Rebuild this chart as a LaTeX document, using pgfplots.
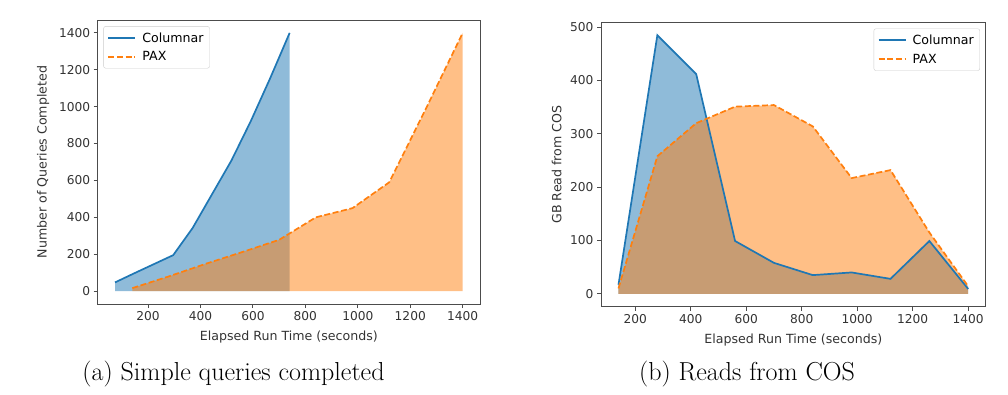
\documentclass[border=0pt]{standalone}
\usepackage{fontspec}
\usepackage{pgfplots}
\pgfplotsset{compat=1.18}
\newfontfamily\dejavu{DejaVu Sans}
\definecolor{cblue}{HTML}{1F77B4}
\definecolor{corange}{HTML}{FF7F0E}
\newcommand\tfont{\dejavu\fontsize{12.2}{14}\selectfont}
\newcommand\lfont{\dejavu\fontsize{12.6}{15}\selectfont}
\pgfplotsset{myax/.style={
  scale only axis,
  axis line style={black!70, line width=0.9pt},
  tick align=outside, tickpos=left, major tick length=4pt,
  tick style={black!70, line width=0.9pt},
  ticklabel style={font=\tfont, text=black!80},
  /pgf/number format/assume math mode=true,
  /pgf/number format/1000 sep={},
  label style={font=\lfont, text=black!80},
  xtick={200,400,...,1400},
  legend cell align=left,
  legend style={font=\lfont, draw=black!20, rounded corners=2pt, fill=white, fill opacity=0.8, text opacity=1, draw opacity=1, inner xsep=4pt, inner ysep=4pt, row sep=4pt, column sep=4pt},
  legend image code/.code={\draw[##1, line width=1.7pt] (0pt,0pt) -- (27pt,0pt);},
}}
\begin{document}
\begin{tikzpicture}
\path[use as bounding box] (0,0) rectangle (1008pt,394pt);
\begin{axis}[myax,
  at={(97.7pt,90pt)}, anchor=south west, width=382.3pt, height=284pt,
  xmin=8, xmax=1466, ymin=-70, ymax=1470,
  ytick={0,200,...,1400},
  xlabel={Elapsed Run Time (seconds)},
  ylabel={Number of Queries Completed},
  xlabel style={at={(axis description cs:0.5,-0.116)}, anchor=center},
  ylabel style={at={(axis description cs:-0.143,0.5)}, anchor=center, rotate=0},
  legend style={at={(0.015,0.978)}, anchor=north west},
]
\addplot[fill=cblue, fill opacity=0.5, draw=none, forget plot] coordinates {(74,47)(148,97)(222,146)(296,195)(370,342)(444,525)(518,708)(592,922)(666,1155)(740,1400)} \closedcycle;
\addplot[fill=corange, fill opacity=0.5, draw=none, forget plot] coordinates {(140,16)(280,80)(420,148)(560,212)(700,278)(840,400)(980,450)(1120,590)(1260,990)(1400,1400)} \closedcycle;
\addplot[cblue, line width=1.7pt] coordinates {(74,47)(148,97)(222,146)(296,195)(370,342)(444,525)(518,708)(592,922)(666,1155)(740,1400)};
\addlegendentry{Columnar}
\addplot[corange, line width=1.7pt, dash pattern=on 6pt off 2.6pt] coordinates {(140,16)(280,80)(420,148)(560,212)(700,278)(840,400)(980,450)(1120,590)(1260,990)(1400,1400)};
\addlegendentry{PAX}
\end{axis}
\begin{axis}[myax,
  at={(601pt,87.3pt)}, anchor=south west, width=384.7pt, height=284.4pt,
  xmin=77, xmax=1463, ymin=-24.25, ymax=509.25,
  ytick={0,100,...,500},
  xlabel={Elapsed Run Time (seconds)},
  ylabel={GB Read from COS},
  xlabel style={at={(axis description cs:0.5,-0.117)}, anchor=center},
  ylabel style={at={(axis description cs:-0.115,0.5)}, anchor=center, rotate=0},
  legend style={at={(0.985,0.978)}, anchor=north east},
]
\addplot[fill=cblue, fill opacity=0.5, draw=none, forget plot] coordinates {(140,17)(280,485)(420,412)(560,99)(700,58)(840,35)(980,40)(1120,28)(1260,99)(1400,9)} \closedcycle;
\addplot[fill=corange, fill opacity=0.5, draw=none, forget plot] coordinates {(140,10)(280,258)(420,320)(560,351)(700,354)(840,314)(980,217)(1120,232)(1260,115)(1400,14)} \closedcycle;
\addplot[cblue, line width=1.7pt] coordinates {(140,17)(280,485)(420,412)(560,99)(700,58)(840,35)(980,40)(1120,28)(1260,99)(1400,9)};
\addlegendentry{Columnar}
\addplot[corange, line width=1.7pt, dash pattern=on 6pt off 2.6pt] coordinates {(140,10)(280,258)(420,320)(560,351)(700,354)(840,314)(980,217)(1120,232)(1260,115)(1400,14)};
\addlegendentry{PAX}
\end{axis}
\node[font=\fontsize{26}{30}\selectfont, anchor=base] at (233.5pt,14pt) {(a) Simple queries completed};
\node[font=\fontsize{26}{30}\selectfont, anchor=base] at (747pt,14pt) {(b) Reads from COS};
\end{tikzpicture}
\end{document}
